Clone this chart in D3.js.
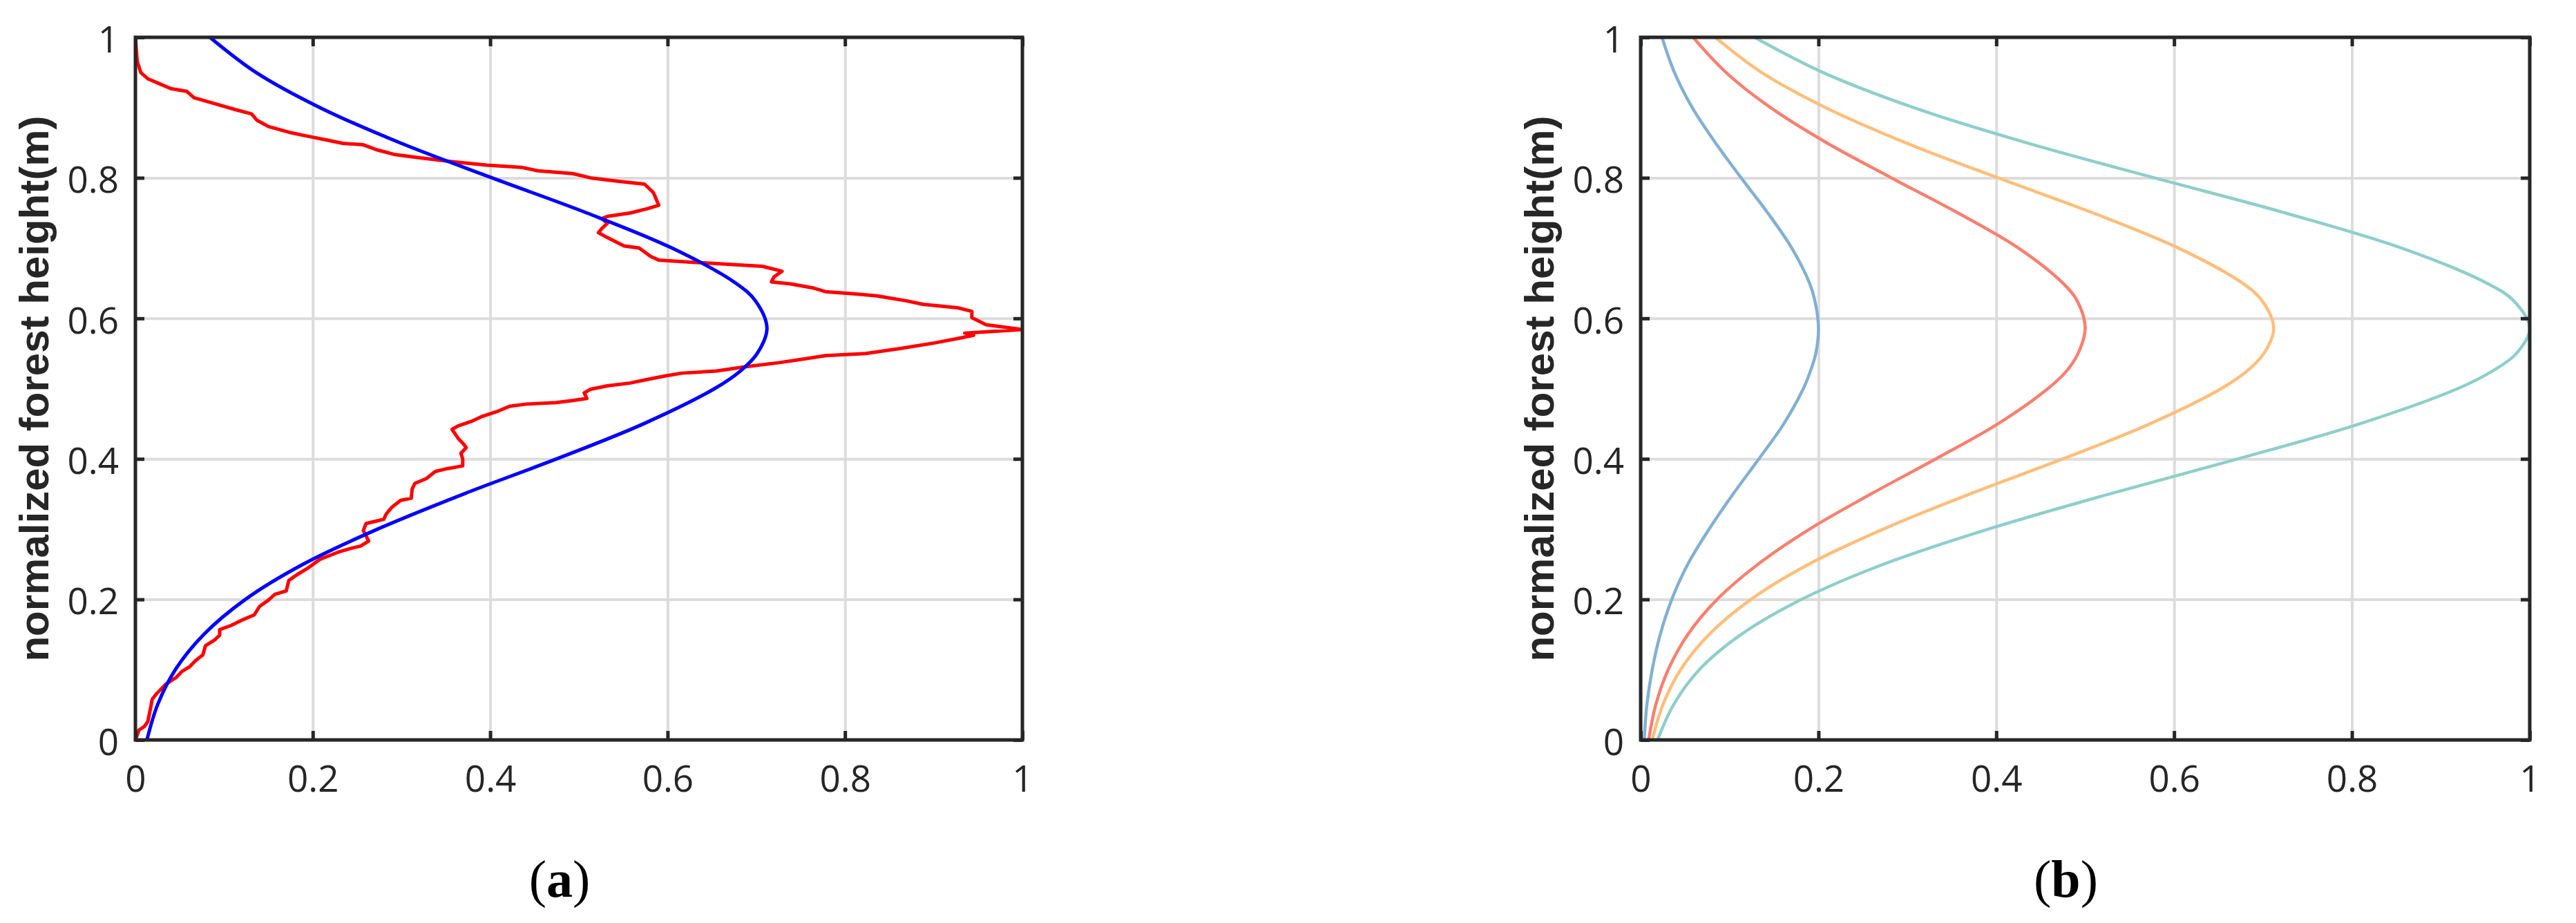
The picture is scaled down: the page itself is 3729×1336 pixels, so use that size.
<!DOCTYPE html>
<html>
<head>
<meta charset="utf-8">
<script src="https://cdn.jsdelivr.net/npm/d3@7"></script>
<style>
  html, body { margin: 0; padding: 0; background: #ffffff; }
  svg { display: block; }
</style>
</head>
<body>
<script>
// ---------------- DATA ----------------
const tickValues = [0, 0.2, 0.4, 0.6, 0.8, 1];
const tickLabels = ["0", "0.2", "0.4", "0.6", "0.8", "1"];
const yAxisTitle = "normalized forest height(m)";
const panelTags = ["a", "b"];

// shared height samples for the smooth profiles
const profileHeight = [0, 0.05, 0.1, 0.15, 0.2, 0.25, 0.3, 0.35, 0.4, 0.45, 0.5, 0.525, 0.55, 0.586, 0.625, 0.65, 0.7, 0.75, 0.8, 0.85, 0.9, 0.95, 1.0];

// panel (a) blue fitted profile
const fitProfileA = [0.013, 0.025, 0.045, 0.077, 0.124, 0.189, 0.273, 0.370, 0.475, 0.573, 0.653, 0.682, 0.701, 0.712, 0.699, 0.677, 0.605, 0.509, 0.402, 0.298, 0.208, 0.136, 0.084];

// panel (a) red measured profile (path order, bottom to top)
const measuredX = [0, 0.004, 0.010, 0.014, 0.017, 0.019, 0.024, 0.034, 0.046, 0.053, 0.061, 0.068, 0.076, 0.079, 0.089, 0.095, 0.095, 0.108, 0.121, 0.134, 0.140, 0.150, 0.157, 0.170, 0.173, 0.182, 0.195, 0.208, 0.228, 0.244, 0.254, 0.263, 0.257, 0.260, 0.270, 0.280, 0.283, 0.289, 0.299, 0.311, 0.312, 0.315, 0.328, 0.338, 0.351, 0.369, 0.369, 0.367, 0.373, 0.370, 0.364, 0.357, 0.364, 0.380, 0.390, 0.409, 0.422, 0.441, 0.474, 0.493, 0.509, 0.506, 0.513, 0.532, 0.558, 0.577, 0.597, 0.616, 0.655, 0.687, 0.726, 0.758, 0.778, 0.823, 0.862, 0.901, 0.930, 0.945, 0.935, 1.0, 0.959, 0.943, 0.943, 0.927, 0.888, 0.869, 0.836, 0.810, 0.778, 0.765, 0.739, 0.717, 0.720, 0.729, 0.707, 0.668, 0.626, 0.590, 0.581, 0.568, 0.551, 0.532, 0.522, 0.526, 0.532, 0.526, 0.532, 0.558, 0.577, 0.590, 0.584, 0.574, 0.545, 0.513, 0.493, 0.454, 0.435, 0.396, 0.357, 0.318, 0.293, 0.272, 0.257, 0.234, 0.215, 0.195, 0.176, 0.150, 0.137, 0.131, 0.113, 0.091, 0.066, 0.058, 0.040, 0.027, 0.014, 0.006, 0.002, 0.0];
const measuredH = [0, 0.014, 0.019, 0.026, 0.045, 0.058, 0.066, 0.079, 0.089, 0.098, 0.104, 0.113, 0.121, 0.134, 0.142, 0.149, 0.157, 0.163, 0.171, 0.178, 0.190, 0.199, 0.207, 0.212, 0.227, 0.235, 0.245, 0.257, 0.267, 0.273, 0.276, 0.283, 0.298, 0.308, 0.311, 0.314, 0.322, 0.331, 0.341, 0.344, 0.357, 0.365, 0.372, 0.382, 0.386, 0.390, 0.400, 0.408, 0.416, 0.421, 0.429, 0.442, 0.447, 0.454, 0.460, 0.468, 0.475, 0.478, 0.480, 0.483, 0.486, 0.494, 0.499, 0.504, 0.508, 0.513, 0.518, 0.522, 0.525, 0.531, 0.537, 0.543, 0.547, 0.550, 0.557, 0.565, 0.572, 0.576, 0.579, 0.584, 0.591, 0.601, 0.610, 0.615, 0.620, 0.625, 0.632, 0.635, 0.638, 0.643, 0.649, 0.652, 0.659, 0.667, 0.674, 0.677, 0.680, 0.683, 0.688, 0.700, 0.703, 0.715, 0.722, 0.728, 0.735, 0.742, 0.745, 0.750, 0.756, 0.761, 0.779, 0.791, 0.795, 0.800, 0.806, 0.810, 0.815, 0.818, 0.823, 0.829, 0.833, 0.840, 0.847, 0.849, 0.854, 0.859, 0.864, 0.873, 0.882, 0.891, 0.897, 0.905, 0.914, 0.923, 0.927, 0.934, 0.941, 0.950, 0.966, 1.0];

// panel (b) four profiles
const profileB1 = [0.004, 0.007, 0.013, 0.022, 0.035, 0.053, 0.077, 0.104, 0.133, 0.161, 0.183, 0.191, 0.197, 0.200, 0.196, 0.190, 0.170, 0.143, 0.113, 0.084, 0.058, 0.038, 0.024];
const profileB2 = [0.009, 0.017, 0.031, 0.053, 0.086, 0.132, 0.190, 0.259, 0.332, 0.402, 0.458, 0.479, 0.492, 0.500, 0.491, 0.475, 0.425, 0.357, 0.282, 0.209, 0.146, 0.096, 0.059];
const profileB3 = [0.013, 0.025, 0.045, 0.077, 0.124, 0.189, 0.273, 0.370, 0.475, 0.573, 0.653, 0.682, 0.701, 0.712, 0.699, 0.677, 0.605, 0.509, 0.402, 0.298, 0.208, 0.136, 0.084];
const profileB4 = [0.019, 0.037, 0.066, 0.113, 0.181, 0.273, 0.391, 0.527, 0.672, 0.809, 0.919, 0.958, 0.985, 1.000, 0.982, 0.952, 0.856, 0.725, 0.578, 0.434, 0.307, 0.205, 0.128];

// ---------------- LAYOUT ----------------
const W = 3729, H = 1336;
const plotTop = 54, plotBottom = 1071;
const panelLeft = [196, 2375];
const panelWidth = [1284, 1287];
const axisColor = "#262626";

const svg = d3.select("body").append("svg")
  .attr("width", W).attr("height", H)
  .attr("xmlns", "http://www.w3.org/2000/svg");
svg.append("rect").attr("width", W).attr("height", H).attr("fill", "#ffffff");

const defs = svg.append("defs");

function drawPanel(idx, series, strokeW) {
  const left = panelLeft[idx];
  const plotWidth = panelWidth[idx];
  const x = d3.scaleLinear().domain([0, 1]).range([left, left + plotWidth]);
  const y = d3.scaleLinear().domain([0, 1]).range([plotBottom, plotTop]);
  const g = svg.append("g");
  const fmt = (d) => tickLabels[tickValues.indexOf(d)];

  // grid
  const gridX = g.append("g").attr("transform", `translate(0,${plotBottom})`)
    .call(d3.axisBottom(x).tickValues(tickValues).tickSize(-(plotBottom - plotTop)).tickFormat(""));
  const gridY = g.append("g").attr("transform", `translate(${left},0)`)
    .call(d3.axisLeft(y).tickValues(tickValues).tickSize(-plotWidth).tickFormat(""));
  [gridX, gridY].forEach(gg => {
    gg.select(".domain").remove();
    gg.selectAll(".tick line").attr("stroke", "#dcdcdc").attr("stroke-width", 4);
  });

  // clip
  const clipId = "clip" + idx;
  defs.append("clipPath").attr("id", clipId).append("rect")
    .attr("x", left).attr("y", plotTop).attr("width", plotWidth).attr("height", plotBottom - plotTop);

  const curves = g.append("g").attr("clip-path", `url(#${clipId})`);
  series.forEach(s => {
    const pts = s.h.map((h, i) => ({ h: h, v: s.v[i] }));
    const line = d3.line().x(d => x(d.v)).y(d => y(d.h))
      .curve(s.smooth ? d3.curveCatmullRom.alpha(0.5) : d3.curveLinear);
    curves.append("path").datum(pts)
      .attr("d", line)
      .attr("fill", "none")
      .attr("stroke", s.color)
      .attr("stroke-width", strokeW)
      .attr("stroke-linejoin", "round")
      .attr("stroke-linecap", "round");
  });

  // axes with inward ticks
  const tickLen = 13;
  const axB = g.append("g").attr("transform", `translate(0,${plotBottom})`)
    .call(d3.axisBottom(x).tickValues(tickValues).tickSize(-tickLen).tickSizeOuter(0).tickPadding(37).tickFormat(fmt));
  const axT = g.append("g").attr("transform", `translate(0,${plotTop})`)
    .call(d3.axisTop(x).tickValues(tickValues).tickSize(-tickLen).tickSizeOuter(0).tickFormat(""));
  const axL = g.append("g").attr("transform", `translate(${left},0)`)
    .call(d3.axisLeft(y).tickValues(tickValues).tickSize(-tickLen).tickSizeOuter(0).tickPadding(24).tickFormat(fmt));
  const axR = g.append("g").attr("transform", `translate(${left + plotWidth},0)`)
    .call(d3.axisRight(y).tickValues(tickValues).tickSize(-tickLen).tickSizeOuter(0).tickFormat(""));
  [axB, axT, axL, axR].forEach(a => {
    a.select(".domain").remove();
    a.selectAll(".tick line").attr("stroke", axisColor).attr("stroke-width", 5);
    a.selectAll("text")
      .attr("fill", axisColor)
      .style("font-family", "'Open Sans', 'Liberation Sans', sans-serif")
      .style("font-size", "53px");
  });
  axL.selectAll("text").attr("dy", "0.40em");

  // box
  g.append("rect")
    .attr("x", left).attr("y", plotTop)
    .attr("width", plotWidth).attr("height", plotBottom - plotTop)
    .attr("fill", "none").attr("stroke", axisColor).attr("stroke-width", 5);

  // y title
  const cy = (plotTop + plotBottom) / 2;
  const tx = left - 126;
  g.append("text")
    .attr("transform", `translate(${tx},${cy}) rotate(-90)`)
    .attr("text-anchor", "middle")
    .style("font-family", "'Liberation Sans', Arial, sans-serif")
    .style("font-weight", "bold")
    .style("font-size", "60px")
    .attr("fill", axisColor)
    .text(yAxisTitle);

  // panel tag
  const tag = g.append("text")
    .attr("x", left + plotWidth / 2 - 28)
    .attr("y", 1298)
    .attr("text-anchor", "middle")
    .style("font-family", "'Liberation Serif', 'Times New Roman', serif")
    .style("font-size", "76px")
    .attr("fill", "#000000");
  tag.append("tspan").text("(");
  tag.append("tspan").style("font-weight", "bold").text(panelTags[idx]);
  tag.append("tspan").text(")");
}

drawPanel(0, [
  { h: measuredH, v: measuredX, color: "#ff0000", smooth: false },
  { h: profileHeight, v: fitProfileA, color: "#0000ff", smooth: true }
], 5);

drawPanel(1, [
  { h: profileHeight, v: profileB1, color: "#82B0D2", smooth: true },
  { h: profileHeight, v: profileB2, color: "#FA7F6F", smooth: true },
  { h: profileHeight, v: profileB3, color: "#FFBE7A", smooth: true },
  { h: profileHeight, v: profileB4, color: "#8ECFC9", smooth: true }
], 4.5);
</script>
</body>
</html>
